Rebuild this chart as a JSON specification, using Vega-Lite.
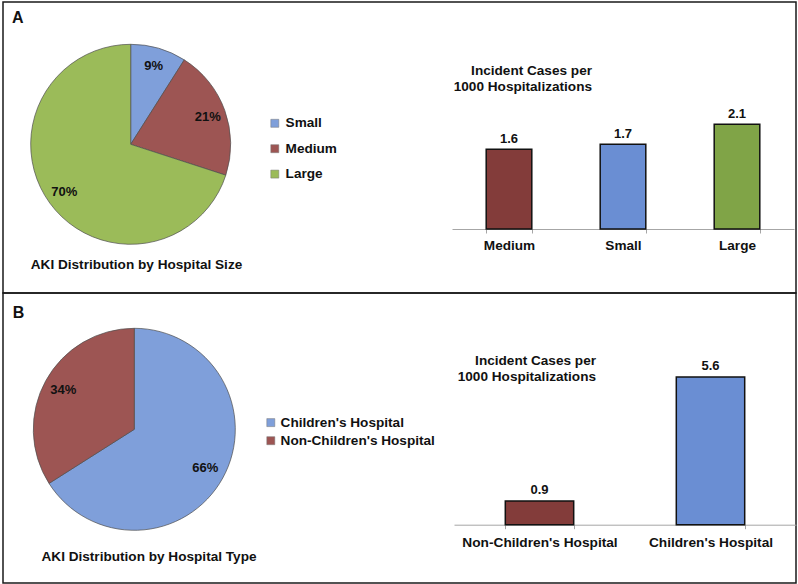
{
  "$schema": "https://vega.github.io/schema/vega-lite/v6.json",
  "padding": {"left": 2, "top": 1, "right": 0, "bottom": 0},
  "background": "white",
  "spacing": 0,
  "bounds": "flush",
  "config": {
    "view": {"stroke": "#1a1a1a", "strokeWidth": 1.5},
    "font": "Liberation Sans",
    "text": {"font": "Liberation Sans", "fontWeight": "bold", "fill": "#111111"}
  },
  "vconcat": [
    {
      "width": 793,
      "height": 291,
      "data": {"values": [
        {"size": "Small", "share": 0.09, "rate": 1.7},
        {"size": "Medium", "share": 0.21, "rate": 1.6},
        {"size": "Large", "share": 0.70, "rate": 2.1}
      ]},
      "layer": [
        {
          "layer": [
            {
              "mark": {"type": "arc", "outerRadius": 100, "x": 127.7, "y": 142.3, "stroke": "#4d4d4d", "strokeWidth": 0.7},
              "encoding": {
                "theta": {"field": "share", "type": "quantitative", "stack": true},
                "order": {"field": "share", "sort": "ascending"},
                "color": {
                  "field": "size", "type": "nominal",
                  "scale": {"domain": ["Small", "Medium", "Large"], "range": ["#7f9fda", "#9d5553", "#9bbb59"]},
                  "legend": {
                    "orient": "none", "legendX": 265, "legendY": 114.5, "title": null, "padding": 0,
                    "symbolType": "square", "symbolSize": 64, "symbolStrokeColor": "#777777", "symbolStrokeWidth": 0.5, "symbolOpacity": 1,
                    "labelFont": "Liberation Sans", "labelFontWeight": "bold", "labelFontSize": 13.6, "labelColor": "#111111",
                    "labelOffset": 4, "rowPadding": 10.4
                  }
                }
              }
            },
            {
              "mark": {"type": "text", "radius": 82, "x": 127.7, "y": 142.3, "fontSize": 13, "fontWeight": "bold", "align": "center", "baseline": "middle"},
              "encoding": {
                "theta": {"field": "share", "type": "quantitative", "stack": true},
                "order": {"field": "share", "sort": "ascending"},
                "text": {"field": "share", "type": "quantitative", "format": ".0%"}
              }
            }
          ]
        },
        {
          "encoding": {
            "x": {
              "field": "size", "type": "nominal", "sort": ["Medium", "Small", "Large"],
              "scale": {"range": [449, 791], "paddingInner": 0.6, "paddingOuter": 0.3},
              "axis": {
                "title": null, "orient": "bottom", "offset": -64, "grid": false,
                "domainColor": "#a6a6a6", "domainWidth": 1, "tickColor": "#a6a6a6", "tickSize": 4, "tickBand": "extent",
                "labelFont": "Liberation Sans", "labelFontWeight": "bold", "labelFontSize": 13.6, "labelColor": "#111111",
                "labelPadding": 5.5, "labelAngle": 0
              }
            },
            "y": {
              "field": "rate", "type": "quantitative",
              "scale": {"domain": [0, 2.5], "range": [227, 102.3]},
              "axis": null
            }
          },
          "layer": [
            {
              "mark": {"type": "bar", "stroke": "#111111", "strokeWidth": 1.5},
              "encoding": {
                "color": {
                  "field": "size", "type": "nominal",
                  "scale": {"domain": ["Medium", "Small", "Large"], "range": ["#833c3a", "#6a8ed3", "#80a447"]},
                  "legend": null
                }
              }
            },
            {
              "mark": {"type": "text", "dy": -6.5, "fontSize": 13, "fontWeight": "bold", "baseline": "alphabetic", "align": "center"},
              "encoding": {"text": {"field": "rate", "type": "quantitative", "format": ".1f"}}
            }
          ]
        },
        {
          "data": {"values": [{}]},
          "mark": {"type": "text", "text": "A", "x": 9, "y": 21, "align": "left", "baseline": "alphabetic", "fontSize": 16, "fontWeight": "bold"},
          "encoding": {}
        },
        {
          "data": {"values": [{}]},
          "mark": {"type": "text", "text": "AKI Distribution by Hospital Size", "x": 133.5, "y": 266.7, "align": "center", "baseline": "alphabetic", "fontSize": 13.6, "fontWeight": "bold"},
          "encoding": {}
        },
        {
          "data": {"values": [{}]},
          "mark": {"type": "text", "text": ["Incident Cases per", "1000 Hospitalizations"], "x": 589, "y": 73, "lineHeight": 16.3, "align": "right", "baseline": "alphabetic", "fontSize": 13.6, "fontWeight": "bold"},
          "encoding": {}
        }
      ],
      "resolve": {"scale": {"color": "independent"}}
    },
    {
      "width": 793,
      "height": 290,
      "data": {"values": [
        {"type": "Children's Hospital", "share": 0.66, "rate": 5.6},
        {"type": "Non-Children's Hospital", "share": 0.34, "rate": 0.9}
      ]},
      "layer": [
        {
          "layer": [
            {
              "mark": {"type": "arc", "outerRadius": 101, "x": 131.3, "y": 136.3, "stroke": "#4d4d4d", "strokeWidth": 0.7},
              "encoding": {
                "theta": {"field": "share", "type": "quantitative", "stack": true},
                "order": {"field": "share", "sort": "descending"},
                "color": {
                  "field": "type", "type": "nominal",
                  "scale": {"domain": ["Children's Hospital", "Non-Children's Hospital"], "range": ["#7f9fda", "#9d5553"]},
                  "legend": {
                    "orient": "none", "legendX": 261, "legendY": 122.8, "title": null, "padding": 0,
                    "symbolType": "square", "symbolSize": 64, "symbolStrokeColor": "#777777", "symbolStrokeWidth": 0.5, "symbolOpacity": 1,
                    "labelFont": "Liberation Sans", "labelFontWeight": "bold", "labelFontSize": 13.6, "labelColor": "#111111",
                    "labelOffset": 3, "rowPadding": 3.1, "labelLimit": 300
                  }
                }
              }
            },
            {
              "mark": {"type": "text", "radius": 81, "x": 131.3, "y": 136.3, "fontSize": 13, "fontWeight": "bold", "align": "center", "baseline": "middle"},
              "encoding": {
                "theta": {"field": "share", "type": "quantitative", "stack": true},
                "order": {"field": "share", "sort": "descending"},
                "text": {"field": "share", "type": "quantitative", "format": ".0%"}
              }
            }
          ]
        },
        {
          "encoding": {
            "x": {
              "field": "type", "type": "nominal", "sort": ["Non-Children's Hospital", "Children's Hospital"],
              "scale": {"range": [451, 793], "paddingInner": 0.6, "paddingOuter": 0.3},
              "axis": {
                "title": null, "orient": "bottom", "offset": -58.3, "grid": false,
                "domainColor": "#a6a6a6", "domainWidth": 1, "tickColor": "#a6a6a6", "tickSize": 4, "tickBand": "extent",
                "labelFont": "Liberation Sans", "labelFontWeight": "bold", "labelFontSize": 13.7, "labelColor": "#111111",
                "labelPadding": 6.5, "labelAngle": 0, "labelLimit": 300
              }
            },
            "y": {
              "field": "rate", "type": "quantitative",
              "scale": {"domain": [0, 6], "range": [231.7, 73.4]},
              "axis": null
            }
          },
          "layer": [
            {
              "mark": {"type": "bar", "stroke": "#111111", "strokeWidth": 1.5},
              "encoding": {
                "color": {
                  "field": "type", "type": "nominal",
                  "scale": {"domain": ["Non-Children's Hospital", "Children's Hospital"], "range": ["#833c3a", "#6a8ed3"]},
                  "legend": null
                }
              }
            },
            {
              "mark": {"type": "text", "dy": -7, "fontSize": 13, "fontWeight": "bold", "baseline": "alphabetic", "align": "center"},
              "encoding": {"text": {"field": "rate", "type": "quantitative", "format": ".1f"}}
            }
          ]
        },
        {
          "data": {"values": [{}]},
          "mark": {"type": "text", "text": "B", "x": 9.7, "y": 25, "align": "left", "baseline": "alphabetic", "fontSize": 16, "fontWeight": "bold"},
          "encoding": {}
        },
        {
          "data": {"values": [{}]},
          "mark": {"type": "text", "text": "AKI Distribution by Hospital Type", "x": 146, "y": 267.7, "align": "center", "baseline": "alphabetic", "fontSize": 13.6, "fontWeight": "bold"},
          "encoding": {}
        },
        {
          "data": {"values": [{}]},
          "mark": {"type": "text", "text": ["Incident Cases per", "1000 Hospitalizations"], "x": 593, "y": 72.3, "lineHeight": 16, "align": "right", "baseline": "alphabetic", "fontSize": 13.6, "fontWeight": "bold"},
          "encoding": {}
        }
      ],
      "resolve": {"scale": {"color": "independent"}}
    }
  ]
}
